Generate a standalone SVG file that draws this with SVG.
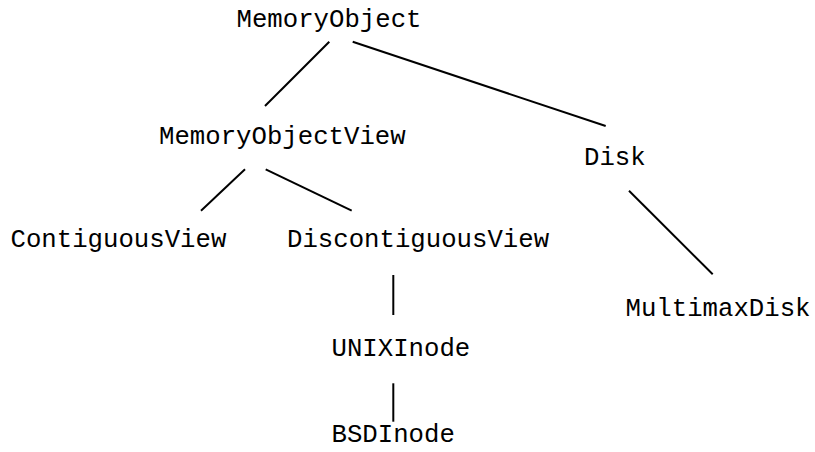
<svg xmlns="http://www.w3.org/2000/svg" width="815" height="452" viewBox="0 0 815 452">
  <style>
    .label { font-family: "Liberation Mono", "Courier New", monospace; font-size: 25.7px; fill: #000; }
    .edge { stroke: #000; stroke-width: 2; fill: none; }
  </style>
  <rect width="815" height="452" fill="#fff"/>
  <g id="connectors">
    <line class="edge" x1="329.3" y1="41.7" x2="265" y2="106"/>
    <line class="edge" x1="352.7" y1="41.7" x2="605.7" y2="126"/>
    <line class="edge" x1="245" y1="169.3" x2="201" y2="210.7"/>
    <line class="edge" x1="265.7" y1="169.3" x2="351.7" y2="210.7"/>
    <line class="edge" x1="393.3" y1="275" x2="393.3" y2="315"/>
    <line class="edge" x1="393.3" y1="383.3" x2="393.3" y2="421.7"/>
    <line class="edge" x1="629" y1="190.7" x2="712.7" y2="274.3"/>
  </g>
  <g id="MemoryObject"><text class="label" x="236.5" y="27">MemoryObject</text></g>
  <g id="MemoryObjectView"><text class="label" x="159" y="144">MemoryObjectView</text></g>
  <g id="Disk"><text class="label" x="584" y="165">Disk</text></g>
  <g id="ContiguousView"><text class="label" x="10.5" y="247">ContiguousView</text></g>
  <g id="DiscontiguousView"><text class="label" x="287" y="247">DiscontiguousView</text></g>
  <g id="UNIXInode"><text class="label" x="331.5" y="356">UNIXInode</text></g>
  <g id="BSDInode"><text class="label" x="331.5" y="442">BSDInode</text></g>
  <g id="MultimaxDisk"><text class="label" x="625.5" y="316">MultimaxDisk</text></g>
</svg>
